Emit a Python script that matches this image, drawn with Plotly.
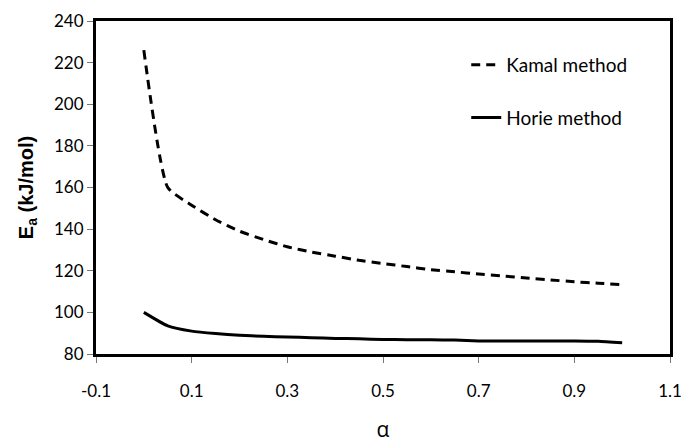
import plotly.graph_objects as go

alpha = [0, 0.05, 0.1, 0.15, 0.2, 0.25, 0.3, 0.35, 0.4, 0.45, 0.5,
         0.55, 0.6, 0.65, 0.7, 0.75, 0.8, 0.85, 0.9, 0.95, 1.0]
kamal = [226, 160, 151.5, 144.5, 139, 135, 131.5, 129, 127, 125, 123.5,
         122, 120.5, 119.5, 118.4, 117.5, 116.5, 115.6, 114.7, 114, 113.3]
horie = [100, 93.5, 91, 89.8, 89, 88.5, 88.2, 87.8, 87.5, 87.3, 87,
         86.9, 86.8, 86.7, 86.3, 86.3, 86.3, 86.3, 86.3, 86.1, 85.4]
x_ticks = [-0.1, 0.1, 0.3, 0.5, 0.7, 0.9, 1.1]
y_ticks = [80, 100, 120, 140, 160, 180, 200, 220, 240]

fig = go.Figure()
fig.add_trace(go.Scatter(x=alpha, y=kamal, mode="lines", name="Kamal method",
                         legendgroup="a",
                         line=dict(color="black", width=3, dash="9px,6px",
                                   shape="spline", smoothing=0.5)))
fig.add_trace(go.Scatter(x=alpha, y=horie, mode="lines", name="Horie method",
                         legendgroup="b",
                         line=dict(color="black", width=3,
                                   shape="spline", smoothing=0.5)))

tickfont = dict(family="Lato, Open Sans, sans-serif", size=17, color="black")
fig.update_layout(
    width=681, height=443,
    margin=dict(l=96, r=11, t=21, b=89),
    plot_bgcolor="white", paper_bgcolor="white",
    legend=dict(x=0.645, y=0.925, xanchor="left", yanchor="top",
                traceorder="grouped", tracegroupgap=25,
                font=dict(family="Lato, Open Sans, sans-serif", size=19, color="black"),
                bgcolor="rgba(0,0,0,0)"),
    xaxis=dict(range=[-0.1, 1.1], tickvals=x_ticks,
               ticktext=[str(v) for v in x_ticks],
               showgrid=False, zeroline=False, automargin=False,
               showline=True, linecolor="black", linewidth=3, mirror=True,
               ticks="outside", ticklen=6, tickcolor="#777", tickwidth=1,
               ticklabelstandoff=14, ticklabeloverflow="allow",
               tickfont=tickfont,
               title=dict(text="α", font=dict(family="Open Sans, sans-serif", size=21, color="black"),
                          standoff=52)),
    yaxis=dict(range=[80, 240], tickvals=y_ticks,
               showgrid=False, zeroline=False, automargin=False,
               showline=True, linecolor="black", linewidth=3, mirror=True,
               ticks="outside", ticklen=6, tickcolor="#777", tickwidth=1,
               tickfont=tickfont,
               title=dict(text="<b>E<sub>a</sub> (kJ/mol)</b>",
                          font=dict(family="Liberation Sans, Arial, sans-serif", size=20, color="black"),
                          standoff=16)),
)

fig.write_html("out.html")
